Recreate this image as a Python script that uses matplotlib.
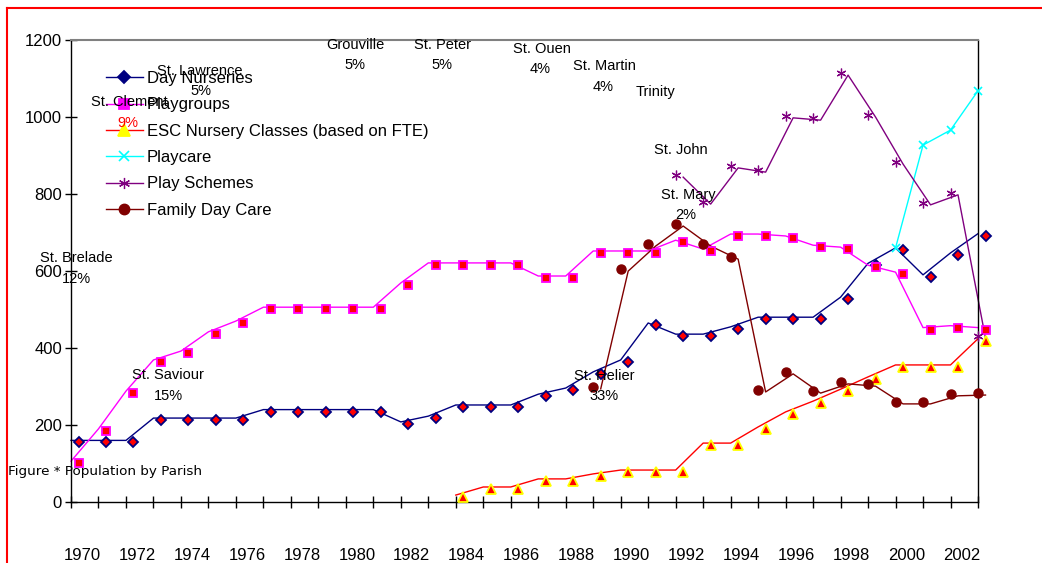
import numpy as np
import matplotlib
matplotlib.use('Agg')
import matplotlib.pyplot as plt
import matplotlib.transforms as mtransforms
from matplotlib.lines import Line2D

plt.rcParams['font.family'] = ['Liberation Sans', 'DejaVu Sans']

nan = np.nan
years = list(range(1970, 2004))
day_nurseries = [160, 160, 160, 218, 218, 218, 218, 240, 240, 240,
                 240, 240, 208, 223, 252, 252, 252, 280, 296, 338,
                 369, 465, 436, 436, 455, 480, 480, 480, 532, 620,
                 660, 590, 647, 697]
playgroups = [106, 190, 288, 369, 392, 442, 470, 506, 506, 506,
              506, 506, 569, 621, 621, 621, 621, 587, 587, 652,
              652, 652, 680, 657, 696, 696, 691, 667, 662, 615,
              597, 453, 458, 453]
esc_nursery = [nan] * 14 + [18, 39, 39, 60, 60, 73, 83, 83, 83, 153,
                            153, 195, 234, 262, 293, 325, 356, 356, 356, 424]
playcare = [nan] * 30 + [660, 927, 966, 1068]
play_schemes = [nan] * 22 + [849, 779, 873, 862, 1003, 997, 1114, 1005,
                             883, 777, 803, 431]
family_day_care = [nan] * 19 + [299, 605, 670, 722, 670, 636, 291, 338,
                                288, 312, 306, 260, 260, 281, 283]

# leftover pie labels: (text, x px, y px, colour)
parish_labels = [
    ('St. Lawrence', 200, 71, 'black'), ('5%', 201, 91, 'black'),
    ('St. Clement', 129, 102, 'black'), ('9%', 128, 123, 'red'),
    ('Grouville', 355, 45, 'black'), ('5%', 355, 65, 'black'),
    ('St. Peter', 443, 45, 'black'), ('5%', 442, 65, 'black'),
    ('St. Ouen', 542, 49, 'black'), ('4%', 540, 69, 'black'),
    ('St. Martin', 604, 66, 'black'), ('4%', 603, 87, 'black'),
    ('Trinity', 656, 92, 'black'),
    ('St. John', 681, 150, 'black'),
    ('St. Mary', 688, 195, 'black'), ('2%', 686, 215, 'black'),
    ('St. Brelade', 76, 258, 'black'), ('12%', 76, 279, 'black'),
    ('St. Saviour', 168, 375, 'black'), ('15%', 168, 396, 'black'),
    ('St. Helier', 604, 376, 'black'), ('33%', 604, 396, 'black'),
]

W, H = 1042, 563
fig = plt.figure(figsize=(W / 100, H / 100), dpi=100)
ax = fig.add_axes([71 / W, 1 - 502 / H, (978 - 71) / W, (502 - 40) / H])

x = np.arange(len(years))
# the marker layer (or line layer) is drawn slightly off, as in the source
shift = ax.transData + mtransforms.ScaledTranslation(7.5 / 100, -2 / 100, fig.dpi_scale_trans)

series = [
    # label, values, line colour, marker, face, edge, ms, mew, line shifted, markers shifted
    ('Day Nurseries', day_nurseries, '#000080', 'D', 'red', '#000080', 4.8, 1.3, False, True),
    ('Playgroups', playgroups, '#FF00FF', 's', 'red', '#FF00FF', 6, 1.3, False, True),
    ('ESC Nursery Classes (based on FTE)', esc_nursery, '#FF0000', '^', 'red', '#FFFF00', 7, 1.3, False, True),
    ('Playcare', playcare, '#00FFFF', 'x', '#00FFFF', '#00FFFF', 6, 1.2, False, False),
    ('Play Schemes', play_schemes, '#800080', (6, 2, 0), '#800080', '#800080', 7, 0.9, True, False),
    ('Family Day Care', family_day_care, '#800000', 'o', '#800000', '#800000', 6.5, 1.0, True, False),
]

handles = []
for name, vals, col, mk, fc, ec, ms, mew, line_sh, mk_sh in series:
    y = np.array(vals, dtype=float)
    ax.plot(x, y, color=col, lw=1, clip_on=False,
            transform=shift if line_sh else ax.transData, zorder=2)
    ax.plot(x, y, ls='none', marker=mk, markersize=ms, markerfacecolor=fc,
            markeredgecolor=ec, markeredgewidth=mew, clip_on=False,
            transform=shift if mk_sh else ax.transData, zorder=3)
    lfc = ec if fc == 'red' else fc
    if name.startswith('ESC'):
        lfc = '#FFFF00'
    handles.append(Line2D([], [], color=col, lw=1, marker=mk, markersize=ms + 1,
                          markeredgewidth=mew, markerfacecolor=lfc, markeredgecolor=lfc))

ax.set_xlim(0, 33)
ax.set_ylim(0, 1200)
ax.set_yticks(range(0, 1201, 200))
ax.set_xticks(x)
ax.set_xticklabels([])
ax.tick_params(axis='x', direction='inout', length=9, width=1)
ax.tick_params(axis='y', direction='inout', length=9, width=1, pad=2, labelsize=12)

# year labels sit well below the axis and a little right of their tick
year_tr = mtransforms.blended_transform_factory(ax.transData, ax.transAxes) + \
    mtransforms.ScaledTranslation(11 / 100, -53 / 100, fig.dpi_scale_trans)
for k, yr in enumerate(years[:-1]):
    if yr % 2 == 0:
        ax.text(k, 0, str(yr), transform=year_tr, ha='center', va='center',
                fontsize=12, clip_on=False)

ax.spines['top'].set_color('#808080')
ax.spines['top'].set_linewidth(1.5)
for s in ('left', 'right', 'bottom'):
    ax.spines[s].set_color('black')
    ax.spines[s].set_linewidth(1)

ax.legend(handles, [s[0] for s in series], loc='upper left',
          bbox_to_anchor=(106 / W, 1 - 71 / H), bbox_transform=fig.transFigure,
          frameon=False, fontsize=12, handlelength=2.2, handletextpad=0.25,
          labelspacing=0.68, borderpad=0, borderaxespad=0)

for txt, px, py, c in parish_labels:
    fig.text(px / W, 1 - py / H, txt, ha='center', va='center', fontsize=10.5, color=c)
fig.text(8 / W, 1 - 472 / H, 'Figure * Population by Parish', ha='left', va='center',
         fontsize=9.7, family='DejaVu Sans')

# red page border (left and top)
fig.add_artist(Line2D([7 / W, 7 / W], [0, 1 - 8 / H], color='red', lw=1.5))
fig.add_artist(Line2D([7 / W, 1], [1 - 8 / H, 1 - 8 / H], color='red', lw=1.5))

fig.savefig('out.png', dpi=100)
